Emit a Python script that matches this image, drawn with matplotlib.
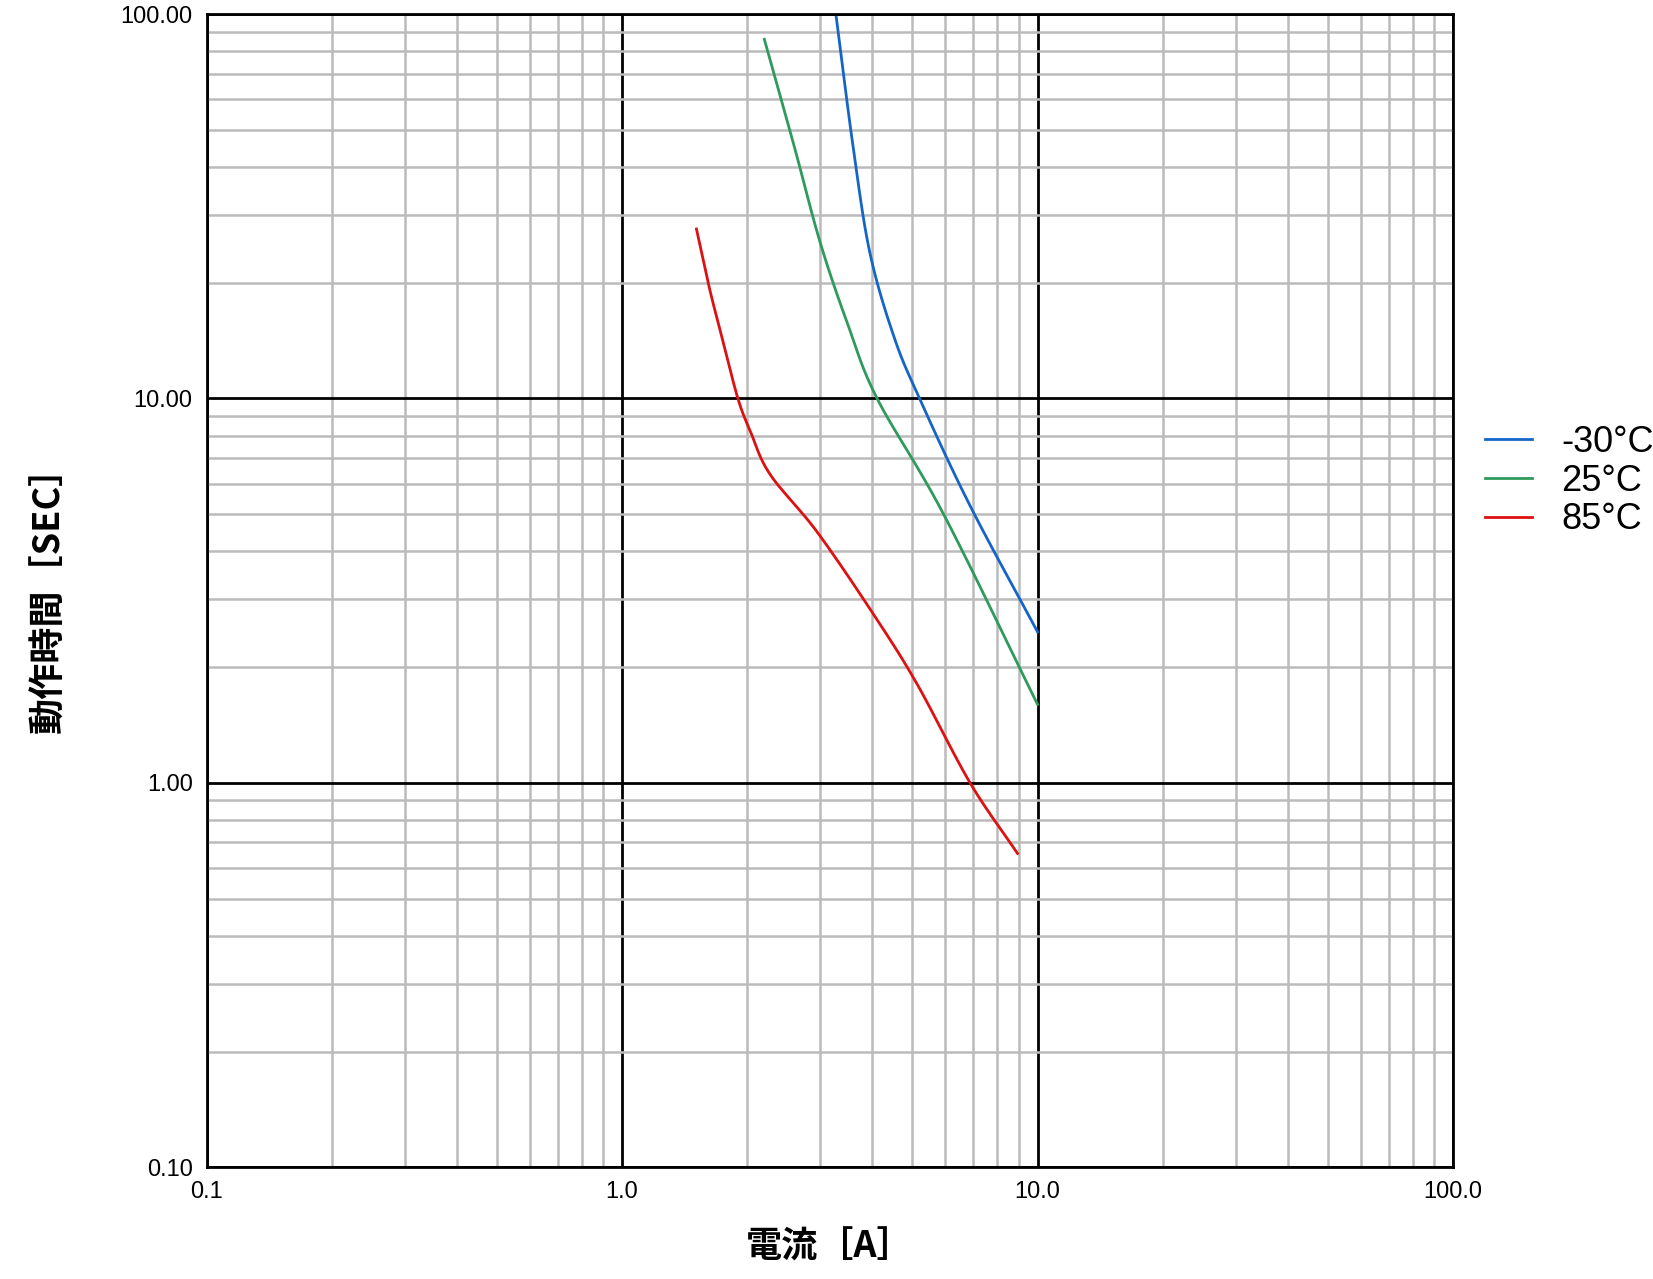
import matplotlib
matplotlib.use("Agg")
import matplotlib.pyplot as plt
from matplotlib.ticker import FixedLocator, LogLocator, NullFormatter
import numpy as np

plt.rcParams['font.family'] = ['Liberation Sans', 'Noto Sans CJK JP', 'DejaVu Sans']

blue_x = [3.27, 3.6, 3.95, 4.52, 5.2, 6.88, 10.0]
blue_y = [100, 45, 23.9, 14.4, 10.0, 5.26, 2.47]
green_x = [2.20, 2.6, 3.0, 3.5, 4.11, 5.94, 10.0]
green_y = [86, 45, 25.4, 15.5, 10.0, 5.0, 1.60]
red_x = [1.51, 1.62, 1.74, 1.90, 2.04, 2.27, 2.95, 4.06, 5.14, 6.88, 8.95]
red_y = [27.6, 19.5, 14.4, 10.0, 8.17, 6.35, 4.49, 2.71, 1.80, 1.0, 0.655]
labels = ['-30°C', '25°C', '85°C']
colors = ['#1565c8', '#2e9a5c', '#dd1111']
xticks = [0.1, 1, 10, 100]
xticklabels = ['0.1', '1.0', '10.0', '100.0']
yticks = [0.1, 1, 10, 100]
yticklabels = ['0.10', '1.00', '10.00', '100.00']

def smooth(xs, ys, n=20):
    # Catmull-Rom through the points in log-log space
    P = np.column_stack([np.log10(xs), np.log10(ys)])
    P = np.vstack([2*P[0]-P[1], P, 2*P[-1]-P[-2]])
    out = []
    for i in range(1, len(P)-2):
        p0, p1, p2, p3 = P[i-1], P[i], P[i+1], P[i+2]
        for t in np.linspace(0, 1, n, endpoint=False):
            t2, t3 = t*t, t*t*t
            out.append(0.5*((2*p1) + (-p0+p2)*t + (2*p0-5*p1+4*p2-p3)*t2 + (-p0+3*p1-3*p2+p3)*t3))
    out.append(P[-2])
    out = np.array(out)
    return 10**out[:, 0], 10**out[:, 1]

fig = plt.figure(figsize=(16.53, 12.79), dpi=100)
ax = fig.add_axes([0.125, 0.0874, 0.754, 0.9016])
for xs, ys, lab, c in zip([blue_x, green_x, red_x], [blue_y, green_y, red_y], labels, colors):
    sx, sy = smooth(xs, ys)
    ax.plot(sx, sy, color=c, lw=2, label=lab)
ax.set_xscale('log'); ax.set_yscale('log')
ax.set_xlim(0.1, 100); ax.set_ylim(0.1, 100)
ax.xaxis.set_major_locator(FixedLocator(xticks))
ax.set_xticklabels(xticklabels)
ax.yaxis.set_major_locator(FixedLocator(yticks))
ax.set_yticklabels(yticklabels)
for a in (ax.xaxis, ax.yaxis):
    a.set_minor_locator(LogLocator(base=10, subs=np.arange(2, 10)))
    a.set_minor_formatter(NullFormatter())
ax.grid(which='minor', color='#bbbbbb', lw=1.8)
ax.grid(which='major', color='black', lw=2)
ax.tick_params(which='both', length=0, labelsize=17, pad=10)
for s in ax.spines.values():
    s.set_linewidth(2)
cjk = ['Noto Sans CJK JP', 'DejaVu Sans']
ax.set_xlabel('電流［A］', fontsize=26, fontweight='bold', labelpad=18, family=cjk)
ax.set_ylabel('動作時間［SEC］', fontsize=26, fontweight='bold', labelpad=38, family=cjk)
ax.legend(loc='center left', bbox_to_anchor=(1.0, 0.595), frameon=False,
          fontsize=26, handlelength=1.3, handletextpad=0.8, labelspacing=0.1)
fig.savefig('out.png', dpi=100)
